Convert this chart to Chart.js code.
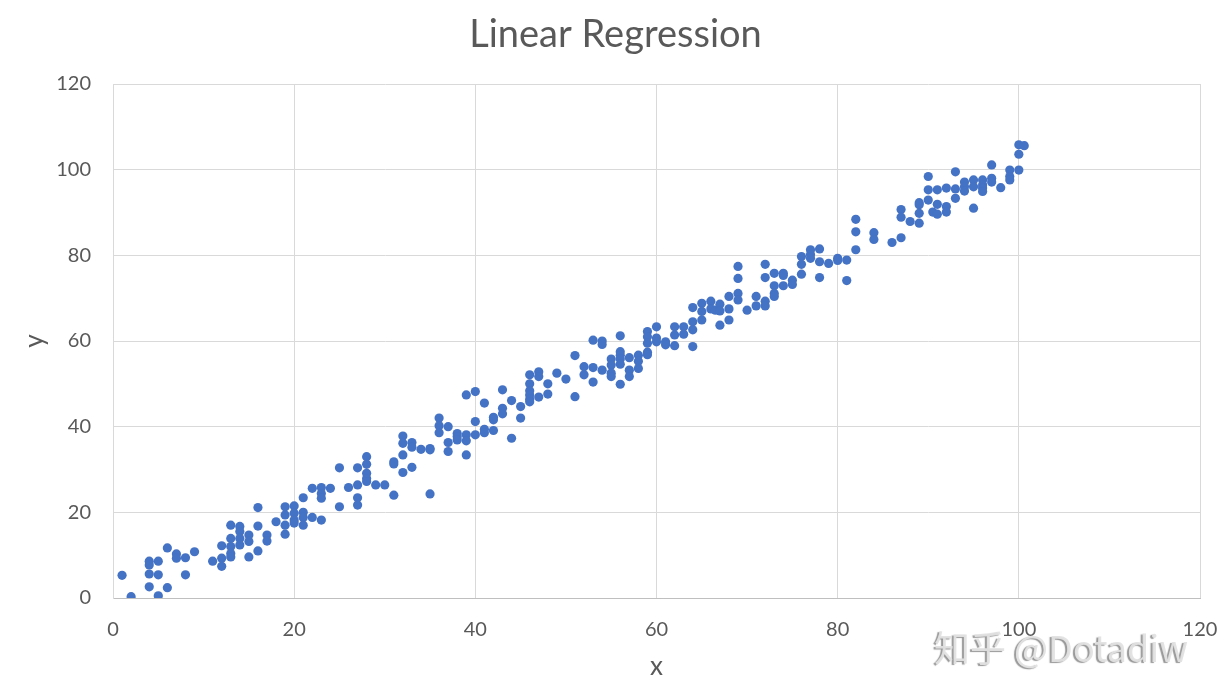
<!DOCTYPE html>
<html>
<head>
<meta charset="utf-8">
<script src="https://cdn.jsdelivr.net/npm/chart.js@4.4.0/dist/chart.umd.min.js"></script>
<style>
  html, body { margin: 0; padding: 0; background: #fff; }
  #wrap { width: 1231px; height: 693px; position: relative; }
</style>
</head>
<body>
<div id="wrap"><canvas id="myChart"></canvas></div>
<script>
// x / y values, one line per decade of x
const xValues = [
    1, 2, 4, 4, 4, 4, 5, 5, 5, 6, 6, 7, 7, 8, 8, 9,
    11, 12, 12, 12, 13, 13, 13, 13, 13, 14, 14, 14, 14, 15, 15, 15, 16, 16, 16, 17, 17, 18, 19, 19, 19, 19,
    20, 20, 20, 20, 21, 21, 21, 21, 22, 22, 23, 23, 23, 23, 24, 25, 25, 26, 27, 27, 27, 27, 28, 28, 28, 28, 28, 29,
    30, 31, 31, 31, 32, 32, 32, 32, 33, 33, 33, 34, 35, 35, 35, 36, 36, 36, 37, 37, 37, 38, 38, 38, 39, 39, 39, 39,
    40, 40, 40, 41, 41, 41, 42, 42, 42, 43, 43, 43, 44, 44, 45, 45, 46, 46, 46, 46, 46, 46, 47, 47, 47, 48, 48, 49,
    50, 51, 51, 52, 52, 53, 53, 53, 54, 54, 54, 55, 55, 55, 55, 56, 56, 56, 56, 56, 56, 57, 57, 57, 58, 58, 58, 59, 59, 59, 59, 59,
    60, 60, 60, 61, 61, 62, 62, 62, 63, 63, 64, 64, 64, 64, 65, 65, 65, 66, 66, 66.5, 67, 67, 67, 68, 68, 68, 69, 69, 69, 69,
    70, 71, 71, 72, 72, 72, 72, 73, 73, 73, 73, 74, 74, 74, 75, 75, 76, 76, 76, 77, 77, 77, 78, 78, 78, 79,
    80, 80, 81, 81, 82, 82, 82, 84, 84, 86, 87, 87, 87, 88, 89, 89, 89, 89,
    90, 90, 90, 90.5, 91, 91, 91, 92, 92, 92, 93, 93, 93, 94, 94, 94, 95, 95, 95, 96, 96, 96, 96, 97, 97, 97, 98, 99, 99, 99, 100, 100, 100, 100.6
];
const yValues = [
    5.3, 0.3, 8.6, 7.7, 5.6, 2.6, 8.6, 5.4, 0.5, 11.7, 2.4, 10.3, 9.3, 9.4, 5.4, 10.8,
    8.6, 12.2, 9.3, 7.4, 17.0, 13.9, 12.0, 10.4, 9.6, 16.7, 15.5, 13.9, 12.4, 14.7, 13.2, 9.6, 21.1, 16.8, 11.0, 14.7, 13.3, 17.8, 21.3, 19.4, 17.0, 14.9,
    21.5, 19.8, 18.2, 17.5, 23.4, 20.0, 18.8, 17.0, 25.6, 18.8, 25.8, 24.4, 23.3, 18.2, 25.6, 30.4, 21.3, 25.8, 30.4, 26.4, 23.4, 21.7, 33.0, 31.2, 29.1, 27.9, 27.2, 26.4,
    26.4, 31.8, 31.3, 24.0, 37.8, 36.1, 33.4, 29.3, 36.3, 35.2, 30.5, 34.7, 34.9, 34.6, 24.3, 42.0, 40.2, 38.6, 40.0, 36.3, 34.2, 38.4, 37.7, 36.9, 47.4, 38.1, 36.7, 33.4,
    48.2, 41.2, 38.1, 45.5, 39.4, 38.6, 42.2, 41.6, 39.1, 48.6, 44.3, 43.0, 46.1, 37.3, 44.7, 42.0, 52.1, 50.0, 48.4, 47.4, 46.4, 45.8, 52.8, 51.7, 46.9, 50.0, 47.6, 52.5,
    51.1, 56.6, 47.0, 54.0, 52.1, 60.2, 53.8, 50.4, 60.0, 59.2, 53.2, 55.8, 54.4, 52.5, 51.7, 61.2, 57.5, 56.7, 55.8, 54.6, 49.9, 56.1, 53.2, 51.7, 56.7, 55.3, 53.6, 62.2, 61.0, 59.5, 57.4, 56.8,
    63.3, 60.7, 59.8, 59.8, 59.1, 63.3, 61.4, 58.9, 63.3, 61.6, 67.8, 64.5, 62.6, 58.7, 68.8, 66.9, 64.9, 69.3, 67.5, 67.2, 68.6, 67.0, 63.7, 70.4, 67.5, 64.9, 77.4, 74.6, 71.1, 69.6,
    67.2, 70.4, 68.2, 77.9, 74.8, 69.3, 68.2, 75.8, 72.9, 71.1, 70.4, 75.8, 75.3, 72.9, 74.2, 73.2, 79.7, 77.9, 75.6, 81.3, 80.2, 79.3, 81.5, 78.5, 74.8, 78.1,
    79.3, 78.8, 78.9, 74.1, 88.4, 85.5, 81.3, 85.3, 83.7, 83.0, 90.7, 88.9, 84.1, 87.9, 92.3, 91.8, 89.8, 87.5,
    98.4, 95.3, 92.9, 90.1, 95.3, 91.9, 89.6, 95.7, 91.4, 90.1, 99.5, 95.5, 93.3, 97.1, 96.0, 95.0, 97.6, 96.0, 91.0, 97.6, 96.4, 95.7, 94.9, 101.1, 98.0, 97.1, 95.8, 99.9, 98.4, 97.6, 105.8, 103.6, 99.9, 105.6
];
const axisMin = 0;
const axisMax = 120;
const axisStep = 20;

const points = xValues.map((x, i) => ({ x: x, y: yValues[i] }));

const textColor = '#595959';
const gridColor = '#d9d9d9';

// faint watermark in the lower right corner
const watermark = {
    id: 'watermark',
    afterDraw(chart) {
        const ctx = chart.ctx;
        ctx.save();
        ctx.font = '36px "Noto Sans CJK SC", "Noto Sans", sans-serif';
        ctx.textAlign = 'left';
        ctx.textBaseline = 'middle';
        ctx.shadowColor = 'rgba(100,100,100,0.7)';
        ctx.shadowOffsetX = -2;
        ctx.shadowOffsetY = 1;
        ctx.shadowBlur = 1;
        ctx.fillStyle = 'rgba(225,225,225,0.95)';
        ctx.fillText('知乎 @Dotadiw', 934, 648);
        ctx.restore();
    }
};

const data = {
    datasets: [{
        data: points,
        backgroundColor: '#4472C4',
        borderWidth: 0,
        pointRadius: 4.6,
        pointHoverRadius: 4.6
    }]
};

const config = {
    type: 'scatter',
    data: data,
    options: {
        responsive: true,
        maintainAspectRatio: false,
        animation: false,
        layout: {
            padding: { left: 0, right: 0, top: 0, bottom: 0 }
        },
        plugins: {
            legend: { display: false },
            tooltip: { enabled: false },
            title: {
                display: true,
                text: 'Linear Regression',
                color: textColor,
                font: { family: 'Lato', size: 38, weight: 'normal' },
                padding: { top: 12, bottom: 26.4 }
            }
        },
        scales: {
            x: {
                type: 'linear',
                min: axisMin,
                max: axisMax,
                ticks: {
                    stepSize: axisStep,
                    color: textColor,
                    font: { family: 'Lato', size: 20 },
                    padding: 3
                },
                // invisible tick marks push the labels down without widening the side padding
                grid: { color: gridColor, drawTicks: true, tickLength: 17, tickColor: 'rgba(0,0,0,0)' },
                border: { color: '#bfbfbf' },
                title: {
                    display: true,
                    text: 'x',
                    color: textColor,
                    font: { family: 'Lato', size: 26 },
                    padding: { top: 0, bottom: 11 }
                },
                afterFit(scale) { scale.height = 95; }
            },
            y: {
                type: 'linear',
                min: axisMin,
                max: axisMax,
                ticks: {
                    stepSize: axisStep,
                    color: textColor,
                    font: { family: 'Lato', size: 20 },
                    padding: 22
                },
                grid: { color: gridColor, drawTicks: false },
                border: { color: gridColor },
                title: {
                    display: true,
                    text: 'y',
                    color: textColor,
                    font: { family: 'Lato', size: 26 },
                    padding: { top: 19, bottom: 0 }
                },
                afterFit(scale) { scale.width = 113; }
            },
            // empty strip on the right so the plot ends at 120 like the original
            spacer: {
                type: 'linear',
                position: 'right',
                display: true,
                ticks: { display: false },
                grid: { display: false },
                border: { display: false },
                afterFit(scale) { scale.width = 31; }
            }
        }
    },
    plugins: [watermark]
};

const myChart = new Chart(
    document.getElementById('myChart'),
    config
);
</script>
</body>
</html>
